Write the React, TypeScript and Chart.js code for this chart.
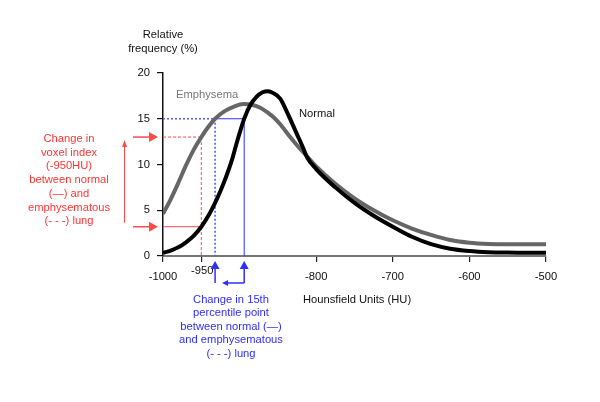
import { useEffect, useRef } from "react";
import { Chart, registerables } from "chart.js";

Chart.register(...registerables);

// ---- data ----
const xTicks = [-1000, -950, -800, -700, -600, -500];
const yTicks = [0, 5, 10, 15, 20];

const emphysemaHU = [-1000, -990, -980, -970, -960, -950, -940, -932, -920, -908, -895, -883, -873, -862, -856, -847, -834, -822, -812, -800, -775, -750, -725, -700, -675, -650, -625, -600, -575, -550, -525, -500];
const emphysemaPct = [4.6, 6.2, 8.0, 9.9, 11.6, 13.0, 14.2, 15.0, 15.8, 16.3, 16.6, 16.5, 16.2, 15.6, 15.2, 14.4, 13.0, 11.8, 10.9, 9.8, 7.9, 6.3, 5.0, 3.9, 3.0, 2.3, 1.75, 1.45, 1.32, 1.28, 1.28, 1.28];

const normalHU = [-1000, -990, -980, -970, -960, -950, -940, -932, -925, -917, -910, -904, -899, -894, -886, -878, -870, -863, -856, -847, -839, -832, -825, -818, -812, -800, -775, -750, -725, -700, -675, -650, -625, -600, -575, -550, -525, -500];
const normalPct = [0.35, 0.6, 0.95, 1.5, 2.2, 3.2, 4.5, 5.8, 7.1, 8.8, 10.5, 12.3, 13.7, 15.0, 16.5, 17.4, 17.9, 18.0, 17.8, 17.2, 15.9, 14.6, 13.3, 12.0, 10.8, 9.5, 7.5, 5.8, 4.4, 3.2, 2.1, 1.3, 0.8, 0.55, 0.42, 0.37, 0.35, 0.35];

const voxelThresholdHU = -950;
const emphysemaAtThreshold = 13;
const normalAtThreshold = 3.2;
const percentileLevel = 15;
const emphysemaP15HU = -932;
const normalP15HU = -894;

const redText = ["Change in", "voxel index", "(-950HU)", "between normal", "(\u2014) and", "emphysematous", "(- - -) lung"];
const blueText = ["Change in 15th", "percentile point", "between normal (\u2014)", "and emphysematous", "(- - -) lung"];

const FONT = '"Liberation Sans", Arial, Helvetica, sans-serif';
const FS = 11.2;
const RED = "#ff3535";
const RED_LINE = "#ff4a4a";
const BLUE = "#2e2eff";
const BLUE_DOT = "#5c5cff";

function head(ctx: CanvasRenderingContext2D, tx: number, ty: number, dx: number, dy: number, len: number, hw: number) {
  const bx = tx - dx * len, by = ty - dy * len;
  const px = -dy, py = dx;
  ctx.beginPath();
  ctx.moveTo(tx, ty);
  ctx.lineTo(bx + px * hw, by + py * hw);
  ctx.lineTo(bx - px * hw, by - py * hw);
  ctx.closePath();
  ctx.fill();
}

function line(ctx: CanvasRenderingContext2D, x1: number, y1: number, x2: number, y2: number) {
  ctx.beginPath();
  ctx.moveTo(x1, y1);
  ctx.lineTo(x2, y2);
  ctx.stroke();
}

const annotations = {
  id: "annotations",
  beforeDatasetsDraw(chart: any) {
    const { ctx, scales } = chart;
    const x = scales.x, y = scales.y;
    const ax = x.getPixelForValue(-1000);
    const y0 = y.getPixelForValue(0);
    ctx.save();
    // red guides
    ctx.strokeStyle = RED_LINE;
    ctx.lineWidth = 1;
    const xr = x.getPixelForValue(voxelThresholdHU);
    const ye = y.getPixelForValue(emphysemaAtThreshold);
    const yn = y.getPixelForValue(normalAtThreshold);
    ctx.setLineDash([3, 2]);
    line(ctx, ax, ye, xr, ye);
    line(ctx, xr, ye, xr, y0);
    ctx.setLineDash([]);
    line(ctx, ax, yn, xr, yn);
    // blue guides
    const yp = y.getPixelForValue(percentileLevel);
    const xe = x.getPixelForValue(emphysemaP15HU);
    const xn = x.getPixelForValue(normalP15HU);
    ctx.strokeStyle = BLUE;
    ctx.lineWidth = 1;
    line(ctx, xe, yp, xn, yp);
    line(ctx, xn, yp, xn, y0);
    ctx.strokeStyle = BLUE_DOT;
    ctx.lineWidth = 1.6;
    ctx.setLineDash([2, 2]);
    line(ctx, ax, yp, xe, yp);
    line(ctx, xe, yp, xe, y0);
    ctx.restore();
  },
  afterDraw(chart: any) {
    const { ctx, scales } = chart;
    const x = scales.x, y = scales.y;
    const ax = x.getPixelForValue(-1000);
    const y0 = y.getPixelForValue(0);
    ctx.save();
    ctx.font = `${FS}px ${FONT}`;
    ctx.textBaseline = "middle";

    // axis titles
    ctx.fillStyle = "#111";
    ctx.textAlign = "center";
    ctx.fillText("Relative", ax, 35);
    ctx.fillText("frequency (%)", ax, 49);
    ctx.textAlign = "left";
    ctx.fillText("Hounsfield Units (HU)", 303, y0 + 44);
    ctx.fillText("Normal", 299, 114);
    ctx.fillStyle = "#777";
    ctx.fillText("Emphysema", 176, 95);

    // -950 label (raised, as in the reference)
    ctx.fillStyle = "#111";
    ctx.textAlign = "center";
    ctx.fillText(String(voxelThresholdHU), x.getPixelForValue(voxelThresholdHU) + 1, y0 + 15);

    // red arrows and text
    const ye = y.getPixelForValue(emphysemaAtThreshold);
    const yn = y.getPixelForValue(normalAtThreshold);
    ctx.strokeStyle = RED_LINE;
    ctx.fillStyle = RED_LINE;
    ctx.lineWidth = 1.5;
    for (const yy of [ye, yn]) {
      line(ctx, ax - 30, yy, ax - 12, yy);
      head(ctx, ax - 5, yy, 1, 0, 9, 5);
    }
    ctx.lineWidth = 1;
    line(ctx, ax - 38.5, yn - 4, ax - 38.5, ye + 8);
    head(ctx, ax - 38.5, ye + 3, 0, -1, 7, 2.5);
    ctx.fillStyle = RED;
    ctx.textAlign = "center";
    redText.forEach((t, i) => ctx.fillText(t, 69, 139 + i * 13.7));

    // blue arrows and text
    const xe = x.getPixelForValue(emphysemaP15HU);
    const xn = x.getPixelForValue(normalP15HU);
    ctx.strokeStyle = BLUE;
    ctx.fillStyle = BLUE;
    ctx.lineWidth = 1.5;
    for (const xx of [xe, xn]) {
      line(ctx, xx, y0 + 10, xx, y0 + 27);
      head(ctx, xx, y0 + 5, 0, -1, 8, 4.5);
    }
    line(ctx, xn, y0 + 27, xe + 10, y0 + 27);
    head(ctx, xe + 7, y0 + 27, -1, 0, 6, 3);
    blueText.forEach((t, i) => ctx.fillText(t, 231, 299.5 + i * 13.6));
    ctx.restore();
  },
};

export default function App() {
  const ref = useRef<HTMLCanvasElement | null>(null);
  useEffect(() => {
    if (!ref.current) return;
    const chart = new Chart(ref.current, {
      type: "line",
      data: {
        datasets: [
          {
            label: "Normal",
            data: normalHU.map((v, i) => ({ x: v, y: normalPct[i] })),
            borderColor: "#000",
            borderWidth: 4,
            pointRadius: 0,
            cubicInterpolationMode: "monotone",
            fill: false,
          },
          {
            label: "Emphysema",
            data: emphysemaHU.map((v, i) => ({ x: v, y: emphysemaPct[i] })),
            borderColor: "#666",
            borderWidth: 4,
            pointRadius: 0,
            cubicInterpolationMode: "monotone",
            fill: false,
          },
        ],
      },
      options: {
        animation: false,
        responsive: false,
        devicePixelRatio: 1,
        layout: { padding: { left: 123, right: 54, top: 73, bottom: 116 } },
        plugins: { legend: { display: false }, tooltip: { enabled: false } },
        scales: {
          x: {
            type: "linear",
            min: -1000,
            max: -500,
            afterBuildTicks: (s: any) => {
              s.ticks = xTicks.map((v) => ({ value: v }));
            },
            afterFit: (s: any) => {
              s.height = 30;
            },
            grid: { drawOnChartArea: false, drawTicks: true, tickLength: 6, color: "#222", lineWidth: 1.2 },
            border: { display: true, color: "#777", width: 2 },
            ticks: {
              color: "#111",
              font: { family: FONT, size: FS },
              padding: 8,
              maxRotation: 0,
              autoSkip: false,
              callback: (v: any) => (v === voxelThresholdHU ? "" : String(v)),
            },
          },
          y: {
            min: 0,
            max: 20,
            afterBuildTicks: (s: any) => {
              s.ticks = yTicks.map((v) => ({ value: v }));
            },
            afterFit: (s: any) => {
              s.width = 40;
            },
            grid: { drawOnChartArea: false, drawTicks: true, tickLength: 6, color: "#111", lineWidth: 1.2 },
            border: { display: true, color: "#111", width: 1.5 },
            ticks: { color: "#111", font: { family: FONT, size: FS }, padding: 7, callback: (v: any) => String(v) },
          },
        },
      },
      plugins: [annotations],
    });
    return () => chart.destroy();
  }, []);
  return (
    <div style={{ position: "absolute", left: 0, top: 0, width: 600, height: 402, background: "#fff" }}>
      <canvas ref={ref} width={600} height={402} style={{ display: "block" }} />
    </div>
  );
}
